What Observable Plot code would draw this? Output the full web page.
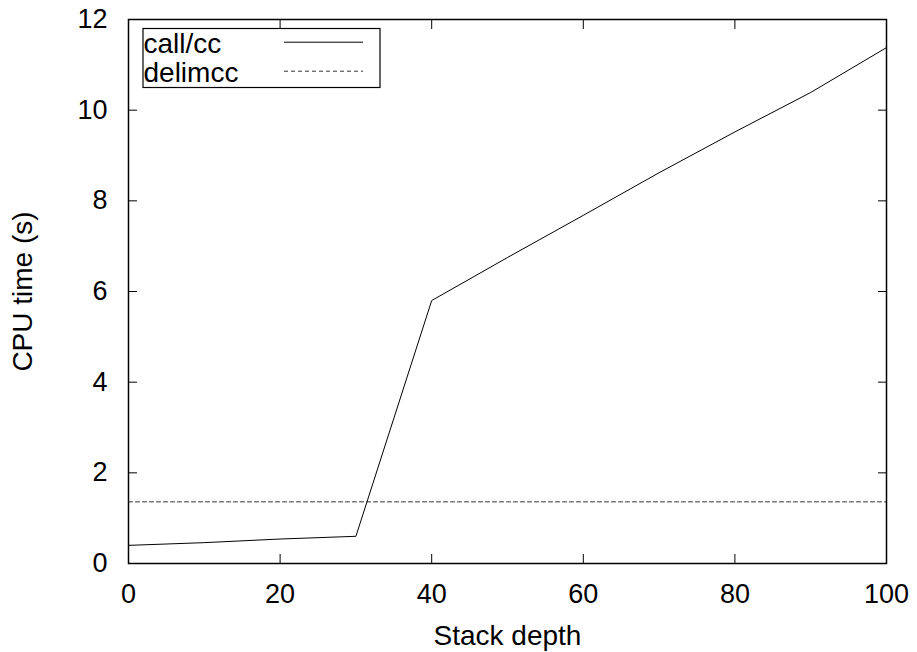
<!DOCTYPE html>
<html>
<head>
<meta charset="utf-8">
<script src="https://cdn.jsdelivr.net/npm/d3@7"></script>
<script src="https://cdn.jsdelivr.net/npm/@observablehq/plot@0.6"></script>
<style>
  html, body { margin: 0; padding: 0; background: white; }
</style>
</head>
<body>
<div id="chart"></div>
<script>
const depth   = [0, 10, 20, 30, 40, 50, 60, 70, 80, 90, 100];
const callcc  = [0.40, 0.46, 0.54, 0.60, 5.80, 6.75, 7.68, 8.62, 9.52, 10.39, 11.38];
const delimcc = [1.36, 1.36, 1.36, 1.36, 1.36, 1.36, 1.36, 1.36, 1.36, 1.36, 1.36];
const xTicks = [0, 20, 40, 60, 80, 100];
const yTicks = [0, 2, 4, 6, 8, 10, 12];
const seriesNames = ["call/cc", "delimcc"];
const xLabel = "Stack depth";
const yLabel = "CPU time (s)";

const rows = depth.map((d, i) => ({depth: d, callcc: callcc[i], delimcc: delimcc[i]}));
const font = "'Liberation Sans', Arial, Helvetica, sans-serif";

const chart = Plot.plot({
  width: 917,
  height: 652,
  marginLeft: 128,
  marginRight: 31,
  marginTop: 19,
  marginBottom: 89,
  x: {domain: [0, 100]},
  y: {domain: [0, 12]},
  style: {fontFamily: font, fontSize: "27px", color: "black", background: "white"},
  marks: [
    Plot.lineY(rows, {x: "depth", y: "delimcc", stroke: "#333", strokeWidth: 1, strokeDasharray: "4,3"}),
    Plot.lineY(rows, {x: "depth", y: "callcc", stroke: "black", strokeWidth: 1}),
    Plot.axisX(xTicks, {anchor: "bottom", tickSize: 0, tickPadding: 20, label: null, fontSize: 27}),
    Plot.axisX(xTicks, {anchor: "bottom", tickSize: 9, dy: -9, tickFormat: () => "", label: null}),
    Plot.axisX(xTicks, {anchor: "top", tickSize: 9, dy: 9, tickFormat: () => "", label: null}),
    Plot.axisY(yTicks, {anchor: "left", tickSize: 0, tickPadding: 21, label: null, fontSize: 27}),
    Plot.axisY(yTicks, {anchor: "left", tickSize: 9, dx: 9, tickFormat: () => "", label: null}),
    Plot.axisY(yTicks, {anchor: "right", tickSize: 9, dx: -9, tickFormat: () => "", label: null}),
    Plot.frame({stroke: "black", strokeWidth: 1.5}),
    Plot.text([xLabel], {frameAnchor: "bottom", lineAnchor: "middle", textAnchor: "middle", dy: 73, text: d => d, fontSize: 28}),
    Plot.text([yLabel], {frameAnchor: "left", lineAnchor: "middle", textAnchor: "middle", dx: -105, rotate: -90, text: d => d, fontSize: 28})
  ]
});

document.getElementById("chart").appendChild(chart);

// Legend inside the plot frame (top-left)
const svg = d3.select(chart.tagName.toLowerCase() === "svg" ? chart : chart.querySelector("svg"));
const lg = svg.append("g");
lg.append("rect")
  .attr("x", 143).attr("y", 28.5).attr("width", 237).attr("height", 59)
  .attr("fill", "white").attr("stroke", "black").attr("stroke-width", 1.2);
const styles = [{stroke: "black", dash: null}, {stroke: "#333", dash: "4,3"}];
seriesNames.forEach((name, i) => {
  const base = 52.7 + i * 29;
  lg.append("text")
    .attr("x", 143.5).attr("y", base)
    .attr("text-anchor", "start")
    .attr("font-family", font).attr("font-size", 28).attr("fill", "black")
    .text(name);
  lg.append("line")
    .attr("x1", 284).attr("x2", 363)
    .attr("y1", base - 10.5).attr("y2", base - 10.5)
    .attr("stroke", styles[i].stroke).attr("stroke-width", 1)
    .attr("stroke-dasharray", styles[i].dash);
});
</script>
</body>
</html>
